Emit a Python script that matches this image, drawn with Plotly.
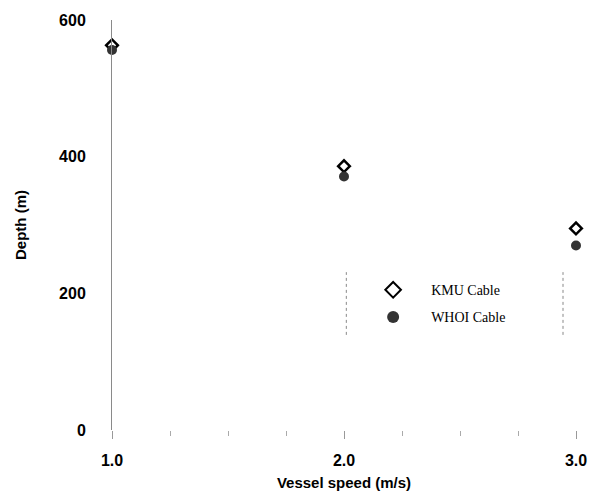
import plotly.graph_objects as go

speed = [1.0, 2.0, 3.0]
kmu_depth = [563, 386, 295]
whoi_depth = [556, 371, 270]
x_ticks = [1.0, 2.0, 3.0]
x_labels = ["1.0", "2.0", "3.0"]
y_ticks = [0, 200, 400, 600]

fig = go.Figure()
fig.add_trace(go.Scatter(
    x=speed, y=kmu_depth, mode="markers", name="KMU Cable", legendgroup="a",
    marker=dict(symbol="diamond-open", size=9, color="black", line=dict(width=2.5, color="black")),
    cliponaxis=False,
))
fig.add_trace(go.Scatter(
    x=speed, y=whoi_depth, mode="markers", name="WHOI Cable", legendgroup="b",
    marker=dict(symbol="circle", size=10, color="#333333", line=dict(width=0)),
    cliponaxis=False,
))

tickfont = dict(family="Liberation Sans Narrow, Arial Narrow, Liberation Sans, Arial", size=16, color="black", weight="bold")
titlefont = dict(family="Liberation Sans, Arial", size=15, color="black", weight="bold")

fig.update_layout(
    width=589, height=495,
    margin=dict(l=112, r=13, t=20, b=65),
    plot_bgcolor="white", paper_bgcolor="white",
    showlegend=True,
    legend=dict(
        x=0.524, y=0.38, xanchor="left", yanchor="top",
        font=dict(family="Liberation Serif, Times New Roman, serif", size=14, color="black"),
        bgcolor="rgba(0,0,0,0)", borderwidth=0,
        itemsizing="constant", tracegroupgap=6, itemwidth=66,
    ),
    xaxis=dict(
        range=[1.0, 3.0], tickvals=x_ticks, ticktext=x_labels,
        ticks="outside", ticklen=8, tickcolor="#999999", tickwidth=1,
        minor=dict(dtick=0.25, tick0=1.0, ticks="outside", ticklen=5, tickcolor="#aaaaaa"),
        showgrid=False, zeroline=False, showline=False,
        tickfont=tickfont, ticklabelstandoff=8, automargin=False,
        title=dict(text="Vessel speed (m/s)", font=titlefont, standoff=9),
    ),
    yaxis=dict(
        range=[0, 600], tickvals=y_ticks,
        ticks="", showgrid=False, zeroline=False,
        showline=True, linecolor="#8a8a8a", linewidth=1,
        tickfont=tickfont, ticklabelstandoff=22, automargin=False,
        title=dict(text="Depth (m)", font=titlefont, standoff=28),
    ),
)

# faint legend frame sides (as in scan)
for xp in [0.505, 0.972]:
    fig.add_shape(type="line", xref="paper", yref="paper", x0=xp, x1=xp, y0=0.232, y1=0.385,
                  line=dict(color="#888888", width=1, dash="dot"))

fig.write_html("out.html")
